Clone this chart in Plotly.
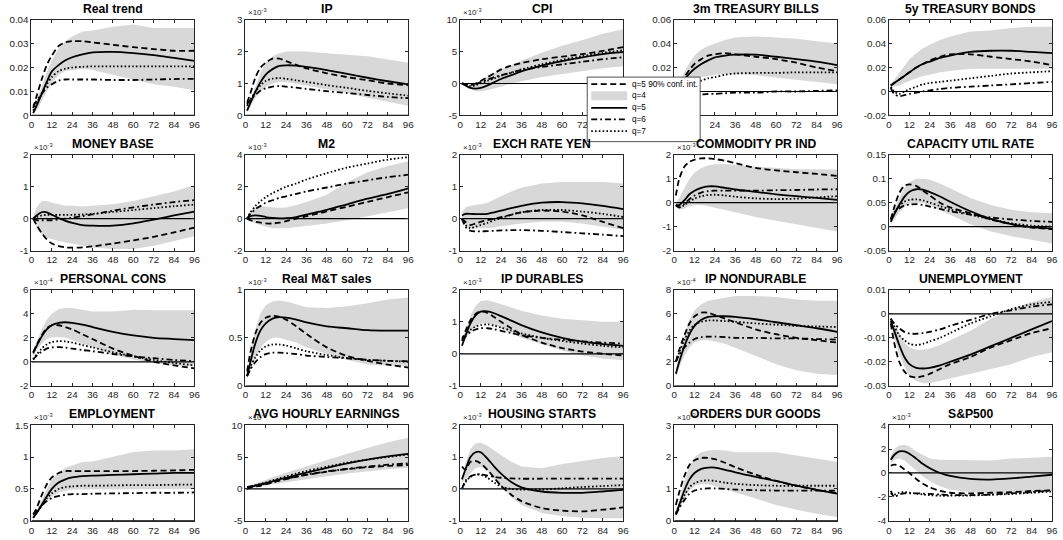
import plotly.graph_objects as go

H = [1, 3, 6, 9, 12, 16, 20, 24, 30, 36, 48, 60, 72, 84, 96]
XTICKS = [0, 12, 24, 36, 48, 60, 72, 84, 96]

TITLES = ["Real trend", "IP", "CPI", "3m TREASURY BILLS", "5y TREASURY BONDS",
          "MONEY BASE", "M2", "EXCH RATE YEN", "COMMODITY PR IND", "CAPACITY UTIL RATE",
          "PERSONAL CONS", "Real M&T sales", "IP DURABLES", "IP NONDURABLE", "UNEMPLOYMENT",
          "EMPLOYMENT", "AVG HOURLY EARNINGS", "HOUSING STARTS", "ORDERS DUR GOODS", "S&P500"]
EXPONENTS = [None, -3, -3, None, None, -3, -3, -3, -3, None,
             -4, -3, -3, -4, None, -3, -4, -3, -3, -3]
YRANGES = [[0, 0.04], [0, 3], [-5, 10], [-0.02, 0.06], [-0.02, 0.06],
           [-1, 2], [-2, 4], [-1, 2], [-2, 2], [-0.05, 0.15],
           [-2, 6], [0, 1], [-1, 2], [0, 8], [-0.03, 0.01],
           [0, 1.5], [-5, 10], [-1, 2], [0, 3], [-4, 4]]
YTICKS = [[0, 0.01, 0.02, 0.03, 0.04], [0, 1, 2, 3], [-5, 0, 5, 10],
          [-0.02, 0, 0.02, 0.04, 0.06], [-0.02, 0, 0.02, 0.04, 0.06],
          [-1, 0, 1, 2], [-2, 0, 2, 4], [-1, 0, 1, 2], [-2, -1, 0, 1, 2],
          [-0.05, 0, 0.05, 0.1, 0.15], [-2, 0, 2, 4, 6], [0, 0.5, 1], [-1, 0, 1, 2],
          [0, 2, 4, 6, 8], [-0.03, -0.02, -0.01, 0, 0.01], [0, 0.5, 1, 1.5],
          [-5, 0, 5, 10], [-1, 0, 1, 2], [0, 1, 2, 3], [-4, -2, 0, 2, 4]]

# ---- series values (in displayed axis units) ----
RT_Q4 = [0.003, 0.008, 0.015, 0.021, 0.025, 0.029, 0.0305, 0.031, 0.031, 0.0305, 0.0295, 0.0285, 0.0277, 0.027, 0.027]
RT_Q5 = [0.001, 0.004, 0.009, 0.014, 0.0184, 0.021, 0.023, 0.0243, 0.0255, 0.0263, 0.0265, 0.026, 0.0252, 0.024, 0.0228]
RT_Q6 = [0.004, 0.006, 0.009, 0.0115, 0.013, 0.0145, 0.015, 0.015, 0.015, 0.015, 0.0148, 0.0148, 0.015, 0.0152, 0.0153]
RT_Q7 = [0.002, 0.005, 0.009, 0.013, 0.016, 0.0185, 0.0195, 0.020, 0.0203, 0.0205, 0.0205, 0.0205, 0.0205, 0.0205, 0.0205]
RT_LO = [0.001, 0.002, 0.006, 0.010, 0.0135, 0.017, 0.0185, 0.019, 0.0195, 0.019, 0.017, 0.015, 0.013, 0.012, 0.0105]
RT_HI = [0.002, 0.006, 0.012, 0.018, 0.023, 0.028, 0.031, 0.033, 0.035, 0.0355, 0.037, 0.038, 0.0365, 0.0365, 0.0365]

IP_Q4 = [0.4, 0.7, 1.2, 1.5, 1.65, 1.78, 1.78, 1.7, 1.58, 1.47, 1.32, 1.2, 1.1, 1.0, 0.95]
IP_Q5 = [0.15, 0.4, 0.75, 1.05, 1.28, 1.45, 1.55, 1.57, 1.56, 1.52, 1.42, 1.3, 1.18, 1.07, 0.97]
IP_Q6 = [0.35, 0.5, 0.65, 0.78, 0.85, 0.9, 0.92, 0.9, 0.87, 0.83, 0.76, 0.7, 0.64, 0.58, 0.54]
IP_Q7 = [0.3, 0.5, 0.75, 0.95, 1.08, 1.15, 1.17, 1.15, 1.1, 1.05, 0.95, 0.86, 0.77, 0.69, 0.62]
IP_LO = [0.1, 0.3, 0.55, 0.75, 0.9, 1.0, 1.05, 1.05, 1.0, 0.95, 0.82, 0.7, 0.55, 0.42, 0.3]
IP_HI = [0.2, 0.5, 0.95, 1.35, 1.65, 1.85, 1.95, 2.0, 2.0, 2.0, 1.95, 1.9, 1.85, 1.75, 1.65]

CPI_Q4 = [0, -0.1, -0.2, 0, 0.4, 1.0, 1.6, 2.2, 2.8, 3.2, 3.8, 4.2, 4.6, 5.1, 5.7]
CPI_Q5 = [0, -0.3, -0.7, -0.8, -0.7, -0.3, 0.2, 0.7, 1.3, 1.9, 2.8, 3.5, 4.1, 4.6, 4.9]
CPI_Q6 = [0, -0.1, -0.2, -0.1, 0.2, 0.6, 1.0, 1.3, 1.7, 2.1, 2.6, 3.0, 3.4, 3.8, 4.1]
CPI_Q7 = [0, -0.2, -0.4, -0.3, 0, 0.4, 0.8, 1.2, 1.7, 2.2, 3.0, 3.7, 4.3, 4.8, 5.2]
CPI_LO = [0, -0.4, -0.9, -1.2, -1.2, -1.0, -0.8, -0.5, 0, 0.4, 1.0, 1.5, 2.0, 2.4, 2.7]
CPI_HI = [0.1, 0, -0.2, 0, 0.4, 1.0, 1.6, 2.2, 2.9, 3.6, 4.8, 5.9, 6.8, 7.8, 8.5]

TB3_Q4 = [0, 0.005, 0.012, 0.018, 0.023, 0.027, 0.030, 0.031, 0.032, 0.031, 0.029, 0.027, 0.024, 0.020, 0.017]
TB3_Q5 = [0, 0.004, 0.010, 0.015, 0.019, 0.023, 0.026, 0.0285, 0.030, 0.0307, 0.0307, 0.029, 0.027, 0.025, 0.022]
TB3_Q6 = [0, -0.002, -0.003, -0.003, -0.003, -0.0025, -0.002, -0.002, -0.0015, -0.001, -0.001, 0, 0, 0.0005, 0.001]
TB3_Q7 = [0, 0.001, 0.003, 0.005, 0.007, 0.009, 0.011, 0.012, 0.014, 0.015, 0.0155, 0.0155, 0.016, 0.016, 0.016]
TB3_LO = [0, 0.002, 0.005, 0.008, 0.010, 0.012, 0.013, 0.014, 0.0145, 0.0145, 0.0135, 0.012, 0.010, 0.008, 0.006]
TB3_HI = [0, 0.007, 0.016, 0.024, 0.030, 0.035, 0.038, 0.040, 0.043, 0.045, 0.046, 0.045, 0.044, 0.042, 0.040]

TB5_Q4 = [0.005, 0.007, 0.010, 0.013, 0.016, 0.020, 0.023, 0.026, 0.029, 0.031, 0.031, 0.029, 0.027, 0.025, 0.022]
TB5_Q5 = [0.005, 0.007, 0.010, 0.013, 0.016, 0.020, 0.023, 0.025, 0.028, 0.030, 0.033, 0.034, 0.034, 0.033, 0.032]
TB5_Q6 = [0.003, -0.002, -0.004, -0.003, -0.002, -0.001, 0, 0.001, 0.002, 0.003, 0.004, 0.005, 0.006, 0.007, 0.008]
TB5_Q7 = [0.004, 0, -0.002, 0, 0.002, 0.004, 0.006, 0.007, 0.008, 0.009, 0.011, 0.013, 0.015, 0.016, 0.017]
TB5_LO = [0.004, 0.004, 0.005, 0.007, 0.009, 0.011, 0.013, 0.014, 0.016, 0.017, 0.019, 0.019, 0.019, 0.019, 0.019]
TB5_HI = [0.006, 0.010, 0.016, 0.022, 0.027, 0.032, 0.036, 0.039, 0.043, 0.046, 0.050, 0.051, 0.053, 0.054, 0.054]

MB_Q4 = [0, -0.2, -0.45, -0.65, -0.78, -0.86, -0.9, -0.91, -0.9, -0.87, -0.78, -0.68, -0.57, -0.43, -0.28]
MB_Q5 = [0, 0.1, 0.2, 0.2, 0.12, 0.02, -0.07, -0.13, -0.2, -0.22, -0.22, -0.15, -0.03, 0.1, 0.22]
MB_Q6 = [0, -0.05, -0.05, -0.05, -0.05, -0.03, 0, 0.03, 0.08, 0.13, 0.25, 0.35, 0.44, 0.52, 0.58]
MB_Q7 = [0, 0.05, 0.1, 0.12, 0.12, 0.12, 0.12, 0.12, 0.13, 0.15, 0.21, 0.27, 0.33, 0.39, 0.44]
MB_LO = [0, -0.3, -0.5, -0.6, -0.65, -0.7, -0.75, -0.8, -0.85, -0.9, -0.95, -0.95, -0.85, -0.7, -0.55]
MB_HI = [0.05, 0.35, 0.55, 0.55, 0.5, 0.45, 0.4, 0.4, 0.38, 0.4, 0.45, 0.55, 0.7, 0.85, 1.05]

M2_Q4 = [0, -0.1, -0.2, -0.25, -0.3, -0.3, -0.25, -0.15, 0, 0.15, 0.45, 0.75, 1.05, 1.35, 1.65]
M2_Q5 = [0, 0.15, 0.2, 0.17, 0.1, 0.05, 0.02, 0.03, 0.1, 0.25, 0.55, 0.9, 1.25, 1.55, 1.9]
M2_Q6 = [0, 0.3, 0.6, 0.8, 1.0, 1.15, 1.3, 1.4, 1.55, 1.7, 1.95, 2.2, 2.4, 2.6, 2.75]
M2_Q7 = [0, 0.4, 0.8, 1.1, 1.35, 1.6, 1.8, 2.0, 2.2, 2.45, 2.85, 3.2, 3.45, 3.7, 3.85]
M2_LO = [0, -0.2, -0.3, -0.4, -0.5, -0.6, -0.6, -0.6, -0.55, -0.45, -0.3, -0.1, 0.15, 0.4, 0.65]
M2_HI = [0.05, 0.5, 0.7, 0.8, 0.75, 0.7, 0.68, 0.7, 0.85, 1.05, 1.5, 2.3, 2.9, 3.3, 3.6]

YEN_Q4 = [0, -0.1, -0.2, -0.15, -0.1, -0.05, 0, 0.05, 0.12, 0.2, 0.25, 0.22, 0.1, -0.1, -0.3]
YEN_Q5 = [0.1, 0.15, 0.15, 0.14, 0.14, 0.15, 0.2, 0.25, 0.33, 0.4, 0.5, 0.52, 0.48, 0.4, 0.3]
YEN_Q6 = [0, -0.25, -0.38, -0.4, -0.4, -0.39, -0.38, -0.37, -0.36, -0.36, -0.38, -0.42, -0.46, -0.5, -0.55]
YEN_Q7 = [0, -0.2, -0.3, -0.25, -0.2, -0.13, -0.05, 0.02, 0.12, 0.2, 0.27, 0.27, 0.22, 0.15, 0.05]
YEN_LO = [0, -0.2, -0.3, -0.3, -0.3, -0.3, -0.28, -0.25, -0.2, -0.15, -0.1, -0.1, -0.15, -0.25, -0.35]
YEN_HI = [0.2, 0.35, 0.4, 0.42, 0.45, 0.5, 0.6, 0.7, 0.85, 0.97, 1.1, 1.15, 1.15, 1.15, 1.1]

COM_Q4 = [0.3, 1.0, 1.5, 1.7, 1.8, 1.85, 1.85, 1.82, 1.75, 1.65, 1.45, 1.35, 1.27, 1.2, 1.12]
COM_Q5 = [-0.1, -0.1, 0.1, 0.35, 0.5, 0.62, 0.68, 0.68, 0.62, 0.55, 0.45, 0.35, 0.27, 0.2, 0.12]
COM_Q6 = [-0.1, -0.2, -0.05, 0.15, 0.3, 0.42, 0.48, 0.5, 0.5, 0.5, 0.5, 0.52, 0.53, 0.55, 0.56]
COM_Q7 = [-0.1, -0.2, -0.1, 0.05, 0.17, 0.27, 0.32, 0.33, 0.3, 0.25, 0.18, 0.15, 0.17, 0.22, 0.27]
COM_LO = [-0.2, -0.3, -0.25, -0.15, -0.1, -0.1, -0.15, -0.2, -0.3, -0.4, -0.6, -0.75, -0.9, -1.05, -1.2]
COM_HI = [0.0, 0.2, 0.6, 1.0, 1.25, 1.45, 1.55, 1.6, 1.6, 1.58, 1.5, 1.45, 1.4, 1.4, 1.38]

CAP_Q4 = [0.015, 0.04, 0.07, 0.085, 0.088, 0.085, 0.075, 0.065, 0.05, 0.04, 0.028, 0.015, 0.005, -0.002, -0.005]
CAP_Q5 = [0.01, 0.025, 0.045, 0.062, 0.073, 0.078, 0.077, 0.072, 0.063, 0.052, 0.032, 0.016, 0.005, -0.001, -0.004]
CAP_Q6 = [0.015, 0.03, 0.038, 0.044, 0.046, 0.047, 0.045, 0.042, 0.037, 0.032, 0.025, 0.019, 0.015, 0.012, 0.01]
CAP_Q7 = [0.015, 0.03, 0.043, 0.052, 0.056, 0.057, 0.055, 0.05, 0.043, 0.036, 0.025, 0.015, 0.007, 0.002, 0.0]
CAP_LO = [0.005, 0.015, 0.03, 0.042, 0.048, 0.05, 0.05, 0.045, 0.035, 0.025, 0.005, -0.01, -0.02, -0.028, -0.035]
CAP_HI = [0.015, 0.035, 0.06, 0.08, 0.093, 0.1, 0.1, 0.098, 0.09, 0.08, 0.06, 0.045, 0.035, 0.03, 0.028]

PC_Q4 = [0.8, 1.4, 2.2, 2.8, 3.05, 3.05, 2.9, 2.7, 2.3, 1.9, 1.1, 0.5, 0.0, -0.3, -0.55]
PC_Q5 = [0.7, 1.3, 2.1, 2.7, 3.05, 3.25, 3.3, 3.25, 3.1, 2.9, 2.5, 2.2, 2.0, 1.9, 1.8]
PC_Q6 = [0.2, 0.5, 0.85, 1.1, 1.2, 1.22, 1.18, 1.1, 0.98, 0.88, 0.65, 0.45, 0.3, 0.15, 0.05]
PC_Q7 = [0.2, 0.6, 1.1, 1.45, 1.65, 1.72, 1.7, 1.6, 1.4, 1.2, 0.8, 0.45, 0.15, -0.1, -0.3]
PC_LO = [0.5, 1.0, 1.5, 1.9, 2.05, 2.1, 2.0, 1.8, 1.5, 1.2, 0.6, 0.2, -0.1, -0.3, -0.4]
PC_HI = [0.9, 1.7, 2.7, 3.5, 4.0, 4.4, 4.5, 4.5, 4.35, 4.2, 4.2, 4.35, 4.3, 4.3, 4.3]

MTS_Q4 = [0.15, 0.35, 0.55, 0.66, 0.71, 0.73, 0.72, 0.69, 0.62, 0.54, 0.4, 0.31, 0.26, 0.22, 0.19]
MTS_Q5 = [0.1, 0.25, 0.45, 0.58, 0.65, 0.7, 0.715, 0.71, 0.69, 0.66, 0.62, 0.6, 0.58, 0.575, 0.575]
MTS_Q6 = [0.1, 0.17, 0.25, 0.3, 0.33, 0.345, 0.345, 0.34, 0.33, 0.315, 0.3, 0.285, 0.27, 0.26, 0.255]
MTS_Q7 = [0.1, 0.2, 0.3, 0.37, 0.41, 0.43, 0.43, 0.42, 0.39, 0.36, 0.32, 0.29, 0.27, 0.26, 0.25]
MTS_LO = [0.08, 0.18, 0.3, 0.4, 0.46, 0.5, 0.5, 0.48, 0.45, 0.4, 0.33, 0.27, 0.22, 0.21, 0.2]
MTS_HI = [0.12, 0.35, 0.6, 0.76, 0.84, 0.88, 0.89, 0.88, 0.85, 0.82, 0.81, 0.83, 0.86, 0.9, 0.92]

IPD_Q4 = [0.4, 0.7, 1.05, 1.25, 1.33, 1.28, 1.15, 1.0, 0.8, 0.6, 0.35, 0.18, 0.07, 0.0, -0.05]
IPD_Q5 = [0.25, 0.55, 0.95, 1.2, 1.32, 1.33, 1.27, 1.18, 1.04, 0.9, 0.67, 0.5, 0.38, 0.3, 0.25]
IPD_Q6 = [0.45, 0.55, 0.68, 0.76, 0.8, 0.8, 0.77, 0.72, 0.65, 0.58, 0.5, 0.44, 0.39, 0.35, 0.32]
IPD_Q7 = [0.5, 0.6, 0.75, 0.85, 0.9, 0.92, 0.88, 0.82, 0.73, 0.64, 0.5, 0.4, 0.32, 0.25, 0.2]
IPD_LO = [0.2, 0.45, 0.7, 0.85, 0.95, 0.95, 0.9, 0.8, 0.65, 0.5, 0.3, 0.1, -0.05, -0.15, -0.2]
IPD_HI = [0.3, 0.7, 1.2, 1.5, 1.65, 1.68, 1.62, 1.55, 1.45, 1.35, 1.2, 1.1, 1.05, 1.0, 1.0]

IPN_Q4 = [2.0, 3.0, 4.2, 5.2, 5.8, 6.1, 6.1, 5.9, 5.6, 5.3, 4.7, 4.3, 4.0, 3.8, 3.6]
IPN_Q5 = [1.0, 2.0, 3.3, 4.3, 5.0, 5.5, 5.75, 5.8, 5.8, 5.75, 5.55, 5.3, 5.05, 4.8, 4.5]
IPN_Q6 = [2.0, 2.6, 3.2, 3.6, 3.9, 4.05, 4.1, 4.1, 4.05, 4.0, 4.0, 3.95, 3.95, 3.9, 3.85]
IPN_Q7 = [2.0, 2.8, 3.8, 4.6, 5.1, 5.35, 5.45, 5.45, 5.4, 5.35, 5.2, 5.1, 5.0, 4.95, 4.9]
IPN_LO = [0.7, 1.5, 2.5, 3.2, 3.6, 3.8, 3.8, 3.7, 3.5, 3.2, 2.5, 1.8, 1.3, 1.0, 0.9]
IPN_HI = [1.3, 2.7, 4.3, 5.5, 6.3, 6.8, 7.1, 7.2, 7.35, 7.5, 7.5, 7.4, 7.2, 7.1, 7.1]

UN_Q4 = [-0.004, -0.012, -0.02, -0.024, -0.026, -0.0265, -0.026, -0.025, -0.023, -0.021, -0.018, -0.014, -0.011, -0.008, -0.006]
UN_Q5 = [-0.003, -0.007, -0.013, -0.018, -0.021, -0.0225, -0.0228, -0.0225, -0.0215, -0.02, -0.017, -0.0135, -0.01, -0.0065, -0.003]
UN_Q6 = [-0.002, -0.004, -0.006, -0.0075, -0.0082, -0.0083, -0.008, -0.0075, -0.0065, -0.005, -0.0025, 0, 0.0015, 0.003, 0.004]
UN_Q7 = [-0.002, -0.005, -0.009, -0.011, -0.0125, -0.013, -0.0125, -0.0115, -0.01, -0.008, -0.004, -0.001, 0.002, 0.004, 0.005]
UN_LO = [-0.004, -0.01, -0.017, -0.022, -0.026, -0.028, -0.029, -0.029, -0.028, -0.027, -0.025, -0.023, -0.021, -0.018, -0.016]
UN_HI = [-0.002, -0.004, -0.008, -0.012, -0.014, -0.015, -0.015, -0.0145, -0.013, -0.011, -0.007, -0.002, 0.002, 0.005, 0.007]

EMP_Q4 = [0.1, 0.2, 0.4, 0.57, 0.68, 0.75, 0.78, 0.78, 0.78, 0.78, 0.78, 0.78, 0.785, 0.79, 0.8]
EMP_Q5 = [0.05, 0.12, 0.25, 0.38, 0.5, 0.6, 0.65, 0.68, 0.7, 0.71, 0.72, 0.73, 0.74, 0.75, 0.75]
EMP_Q6 = [0.1, 0.15, 0.24, 0.31, 0.36, 0.39, 0.41, 0.42, 0.42, 0.425, 0.43, 0.435, 0.44, 0.44, 0.445]
EMP_Q7 = [0.05, 0.12, 0.24, 0.35, 0.43, 0.5, 0.53, 0.54, 0.55, 0.55, 0.555, 0.56, 0.56, 0.565, 0.57]
EMP_LO = [0.04, 0.1, 0.2, 0.3, 0.38, 0.44, 0.47, 0.49, 0.5, 0.5, 0.5, 0.5, 0.5, 0.5, 0.5]
EMP_HI = [0.06, 0.15, 0.32, 0.5, 0.65, 0.76, 0.83, 0.87, 0.92, 0.93, 1.0, 1.08, 1.1, 1.1, 1.12]

AHE_Q4 = [0.0, 0.2, 0.4, 0.5, 0.7, 1.0, 1.3, 1.55, 1.9, 2.2, 2.7, 3.1, 3.4, 3.6, 3.75]
AHE_Q5 = [0.2, 0.3, 0.5, 0.7, 0.9, 1.2, 1.5, 1.75, 2.15, 2.55, 3.3, 4.0, 4.6, 5.1, 5.5]
AHE_Q6 = [0.3, 0.4, 0.55, 0.7, 0.85, 1.1, 1.35, 1.6, 1.95, 2.25, 2.75, 3.15, 3.5, 3.8, 4.0]
AHE_Q7 = [0.3, 0.4, 0.6, 0.8, 1.0, 1.35, 1.65, 1.95, 2.4, 2.8, 3.5, 4.1, 4.6, 5.0, 5.4]
AHE_LO = [0.1, 0.2, 0.3, 0.4, 0.5, 0.7, 0.9, 1.05, 1.3, 1.6, 2.0, 2.4, 2.8, 3.1, 3.3]
AHE_HI = [0.4, 0.6, 0.8, 1.1, 1.4, 1.8, 2.2, 2.55, 3.05, 3.5, 4.5, 5.5, 6.4, 7.3, 8.0]

HS_Q4 = [0.7, 0.6, 0.85, 0.88, 0.8, 0.6, 0.35, 0.1, -0.18, -0.38, -0.6, -0.68, -0.7, -0.65, -0.58]
HS_Q5 = [0.3, 0.6, 1.0, 1.15, 1.15, 0.95, 0.7, 0.48, 0.22, 0.05, -0.08, -0.12, -0.12, -0.08, -0.03]
HS_Q6 = [0.0, 0.25, 0.4, 0.45, 0.45, 0.42, 0.38, 0.35, 0.33, 0.32, 0.32, 0.32, 0.32, 0.32, 0.32]
HS_Q7 = [0.0, 0.2, 0.38, 0.45, 0.45, 0.35, 0.2, 0.08, 0.0, -0.02, -0.02, 0.02, 0.06, 0.09, 0.12]
HS_LO = [0.2, 0.3, 0.5, 0.65, 0.7, 0.55, 0.3, 0.05, -0.25, -0.5, -0.75, -0.85, -0.9, -0.92, -0.92]
HS_HI = [0.4, 0.8, 1.25, 1.42, 1.45, 1.35, 1.2, 1.05, 0.85, 0.7, 0.65, 0.78, 0.88, 0.97, 1.03]

ODG_Q4 = [0.5, 0.9, 1.4, 1.75, 1.9, 1.97, 1.97, 1.93, 1.82, 1.68, 1.45, 1.25, 1.1, 0.97, 0.87]
ODG_Q5 = [0.2, 0.5, 0.95, 1.3, 1.5, 1.63, 1.67, 1.67, 1.6, 1.52, 1.38, 1.25, 1.1, 0.97, 0.85]
ODG_Q6 = [0.2, 0.4, 0.65, 0.85, 0.95, 1.0, 1.02, 1.02, 1.0, 0.98, 0.96, 0.95, 0.95, 0.95, 0.95]
ODG_Q7 = [0.25, 0.5, 0.8, 1.05, 1.18, 1.25, 1.27, 1.25, 1.2, 1.16, 1.12, 1.1, 1.1, 1.1, 1.1]
ODG_LO = [0.15, 0.35, 0.7, 0.95, 1.1, 1.15, 1.15, 1.1, 1.0, 0.9, 0.7, 0.5, 0.35, 0.22, 0.12]
ODG_HI = [0.3, 0.7, 1.25, 1.7, 2.0, 2.15, 2.2, 2.22, 2.2, 2.15, 2.15, 2.15, 2.05, 1.95, 1.85]

SP_Q4 = [0.6, 0.7, 0.6, 0.3, 0.0, -0.5, -0.9, -1.2, -1.5, -1.65, -1.7, -1.65, -1.6, -1.5, -1.45]
SP_Q5 = [1.1, 1.5, 1.8, 1.8, 1.6, 1.2, 0.75, 0.4, 0.0, -0.25, -0.5, -0.55, -0.45, -0.3, -0.15]
SP_Q6 = [-1.5, -2.0, -1.8, -1.7, -1.7, -1.7, -1.72, -1.75, -1.8, -1.85, -1.85, -1.8, -1.7, -1.6, -1.45]
SP_Q7 = [-1.7, -1.8, -1.65, -1.6, -1.65, -1.72, -1.8, -1.85, -1.9, -1.9, -1.88, -1.82, -1.75, -1.65, -1.55]
SP_LO = [0.8, 1.1, 1.2, 1.05, 0.7, 0.2, -0.3, -0.7, -1.1, -1.4, -1.6, -1.7, -1.7, -1.6, -1.5]
SP_HI = [1.4, 2.0, 2.3, 2.35, 2.2, 1.8, 1.5, 1.2, 1.1, 1.1, 1.1, 1.05, 1.2, 1.3, 1.35]

PANELS = [
    (RT_Q4, RT_Q5, RT_Q6, RT_Q7, RT_LO, RT_HI),
    (IP_Q4, IP_Q5, IP_Q6, IP_Q7, IP_LO, IP_HI),
    (CPI_Q4, CPI_Q5, CPI_Q6, CPI_Q7, CPI_LO, CPI_HI),
    (TB3_Q4, TB3_Q5, TB3_Q6, TB3_Q7, TB3_LO, TB3_HI),
    (TB5_Q4, TB5_Q5, TB5_Q6, TB5_Q7, TB5_LO, TB5_HI),
    (MB_Q4, MB_Q5, MB_Q6, MB_Q7, MB_LO, MB_HI),
    (M2_Q4, M2_Q5, M2_Q6, M2_Q7, M2_LO, M2_HI),
    (YEN_Q4, YEN_Q5, YEN_Q6, YEN_Q7, YEN_LO, YEN_HI),
    (COM_Q4, COM_Q5, COM_Q6, COM_Q7, COM_LO, COM_HI),
    (CAP_Q4, CAP_Q5, CAP_Q6, CAP_Q7, CAP_LO, CAP_HI),
    (PC_Q4, PC_Q5, PC_Q6, PC_Q7, PC_LO, PC_HI),
    (MTS_Q4, MTS_Q5, MTS_Q6, MTS_Q7, MTS_LO, MTS_HI),
    (IPD_Q4, IPD_Q5, IPD_Q6, IPD_Q7, IPD_LO, IPD_HI),
    (IPN_Q4, IPN_Q5, IPN_Q6, IPN_Q7, IPN_LO, IPN_HI),
    (UN_Q4, UN_Q5, UN_Q6, UN_Q7, UN_LO, UN_HI),
    (EMP_Q4, EMP_Q5, EMP_Q6, EMP_Q7, EMP_LO, EMP_HI),
    (AHE_Q4, AHE_Q5, AHE_Q6, AHE_Q7, AHE_LO, AHE_HI),
    (HS_Q4, HS_Q5, HS_Q6, HS_Q7, HS_LO, HS_HI),
    (ODG_Q4, ODG_Q5, ODG_Q6, ODG_Q7, ODG_LO, ODG_HI),
    (SP_Q4, SP_Q5, SP_Q6, SP_Q7, SP_LO, SP_HI),
]

LEGEND_LABELS = ["q=5 90% conf. int.", "q=4", "q=5", "q=6", "q=7"]

# ---- styling ----
W, HT = 1063, 540
FONT = "Liberation Sans, Arial, Helvetica, sans-serif"
AXC = "#262626"
BAND = "#d8d8d8"
LW = 1.8
DASHES = {"q4": "6px,3.5px", "q5": "solid", "q6": "6px,3px,1.8px,3px", "q7": "1.6px,2.2px"}
# target pixel positions of the axes boxes
COL_L = [31, 245, 460, 674, 889]
AX_W = 163
ROW_T = [22, 156, 290, 424]
AX_H = 95
# the photographed page is slightly inset/scaled; compensate so targets land right
OX, SX = 2.5, (1057.0 - 2.5) / 1063.0
OY, SY = 8.5, (533.0 - 8.5) / 540.0


def px_x(p):
    return max(0.0, min(1.0, (p - OX) / SX / W))


def px_y(p):
    return max(0.0, min(1.0, 1 - (p - OY) / SY / HT))


def fmt(v):
    return "{:g}".format(v)


fig = go.Figure()
layout = {}
annotations = []

for i, (q4, q5, q6, q7, lo, hi) in enumerate(PANELS):
    k = i + 1
    r, c = divmod(i, 5)
    xs = "x" if k == 1 else f"x{k}"
    ys = "y" if k == 1 else f"y{k}"
    xa = "xaxis" if k == 1 else f"xaxis{k}"
    ya = "yaxis" if k == 1 else f"yaxis{k}"
    L = COL_L[c]
    T = ROW_T[r]
    common = dict(showline=True, linecolor=AXC, linewidth=1, mirror="ticks",
                  ticks="inside", ticklen=3, tickwidth=1, tickcolor=AXC,
                  showgrid=False, zeroline=False, fixedrange=True,
                  tickfont=dict(family=FONT, size=9.8, color=AXC))
    layout[xa] = dict(domain=[px_x(L), px_x(L + AX_W)], range=[0, 96], anchor=ys,
                      tickvals=XTICKS, ticktext=[fmt(v) for v in XTICKS], **common)
    layout[ya] = dict(domain=[px_y(T + AX_H), px_y(T)], range=YRANGES[i], anchor=xs,
                      tickvals=YTICKS[i], ticktext=[fmt(v) for v in YTICKS[i]], **common)

    # confidence band
    fig.add_trace(go.Scatter(x=H + H[::-1], y=hi + lo[::-1], fill="toself",
                             fillcolor=BAND, line=dict(width=0), mode="lines",
                             hoverinfo="skip", showlegend=False, xaxis=xs, yaxis=ys))
    # zero line
    fig.add_trace(go.Scatter(x=[0, 96], y=[0, 0], mode="lines",
                             line=dict(color="black", width=1.2),
                             hoverinfo="skip", showlegend=False, xaxis=xs, yaxis=ys))
    for key, vals in (("q4", q4), ("q6", q6), ("q7", q7), ("q5", q5)):
        fig.add_trace(go.Scatter(x=H, y=vals, mode="lines",
                                 line=dict(color="black", width=LW, dash=DASHES[key],
                                           shape="spline", smoothing=0.8),
                                 showlegend=False, xaxis=xs, yaxis=ys))

    # title
    annotations.append(dict(text=f"<b>{TITLES[i]}</b>", xref="paper", yref="paper",
                            x=px_x(L + AX_W / 2), y=px_y(T - 11), xanchor="center",
                            yanchor="middle", showarrow=False,
                            font=dict(family=FONT, size=12.2, color="black")))
    # exponent
    if EXPONENTS[i] is not None:
        annotations.append(dict(text=f"\u00d710<sup>{EXPONENTS[i]}</sup>", xref="paper",
                                yref="paper", x=px_x(L + 1), y=px_y(T - 1),
                                xanchor="left", yanchor="bottom", showarrow=False,
                                font=dict(family=FONT, size=8, color=AXC)))

# ---- legend box (drawn as layout shapes) ----
LEG_L, LEG_T, LEG_R, LEG_B = 587, 79, 700, 143
ROW_Y = [86, 97.5, 109.5, 121, 132.5]
SAMPLE_L, SAMPLE_R = 591, 627
shapes = [dict(type="rect", xref="paper", yref="paper", x0=px_x(LEG_L), x1=px_x(LEG_R),
               y0=px_y(LEG_B), y1=px_y(LEG_T), fillcolor="white",
               line=dict(color=AXC, width=0.8), layer="above")]
legend_styles = [("line", DASHES["q4"]), ("patch", None), ("line", DASHES["q5"]),
                 ("line", DASHES["q6"]), ("line", DASHES["q7"])]
for (kind, dash), yy, label in zip(legend_styles, ROW_Y, LEGEND_LABELS):
    if kind == "patch":
        shapes.append(dict(type="rect", xref="paper", yref="paper", x0=px_x(SAMPLE_L),
                           x1=px_x(SAMPLE_R), y0=px_y(yy + 4.5), y1=px_y(yy - 4.5),
                           fillcolor=BAND, line=dict(width=0), layer="above"))
    else:
        shapes.append(dict(type="line", xref="paper", yref="paper", x0=px_x(SAMPLE_L),
                           x1=px_x(SAMPLE_R), y0=px_y(yy), y1=px_y(yy),
                           line=dict(color="black", width=LW, dash=dash), layer="above"))
    annotations.append(dict(text=label, xref="paper", yref="paper", x=px_x(SAMPLE_R + 3),
                            y=px_y(yy), xanchor="left", yanchor="middle", showarrow=False,
                            font=dict(family=FONT, size=8.2, color="black")))

fig.update_layout(width=W, height=HT, margin=dict(l=0, r=0, t=0, b=0),
                  paper_bgcolor="white", plot_bgcolor="white", showlegend=False,
                  font=dict(family=FONT, color=AXC), annotations=annotations,
                  shapes=shapes, **layout)

fig.write_html("out.html", config={"displayModeBar": False, "staticPlot": True},
               post_script="document.body.style.margin='0';document.body.style.overflow='hidden';")
